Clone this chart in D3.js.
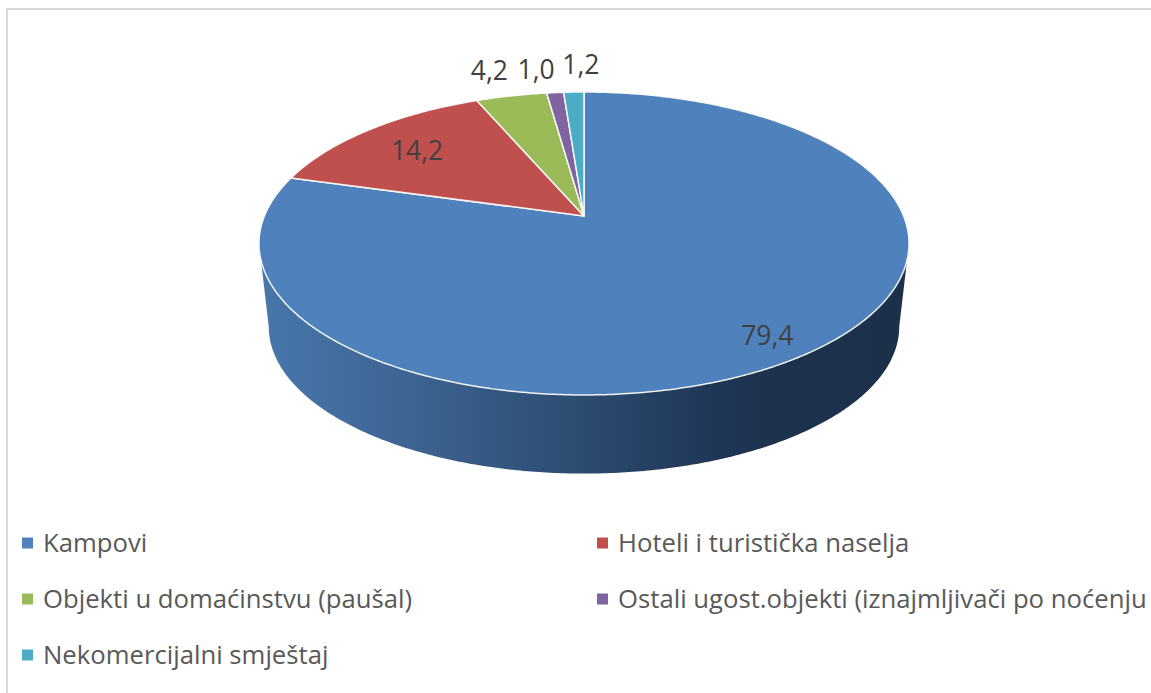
<!DOCTYPE html>
<html>
<head>
<meta charset="utf-8">
<script src="https://cdn.jsdelivr.net/npm/d3@7"></script>
<style>
  html, body { margin: 0; background: #fff; }
  svg { display: block; font-family: 'Open Sans', sans-serif; }
</style>
</head>
<body>
<svg width="1151" height="693"></svg>
<script>
const categories = [
  'Kampovi',
  'Hoteli i turistička naselja',
  'Objekti u domaćinstvu (paušal)',
  'Ostali ugost.objekti (iznajmljivači po noćenju',
  'Nekomercijalni smještaj',
];
const shares = [79.4, 14.2, 4.2, 1.0, 1.2];
const sliceColors = ['#4f81bd', '#c0504d', '#9bbb59', '#8064a2', '#4bacc6'];

const svg = d3.select('svg');
const fmt = (v) => v.toFixed(1).replace('.', ',');
const color = d3.scaleOrdinal(categories, sliceColors);

// tilted disc: the centre sits above the middle of the ellipse, so plain d3.arc won't do
const tilt = 0.1815;
function disc(x0, y0, rx, ry) {
  return (angle, r = 1) => {
    const v = -Math.cos(angle) * r;
    const w = 1 / (1 - tilt * v);
    return [x0 + rx * Math.sin(angle) * r * w, y0 + ry * v * w];
  };
}
const topFace = disc(584, 216, 319.6, 146.5);
const bottomFace = disc(584, 300, 310, 142.1);

const line = d3.line();
const slices = d3.pie().sort(null).value((d) => d)(shares);

function rim(face, from, to) {
  const n = Math.max(2, Math.ceil(Math.abs(to - from) / 0.01));
  return d3.range(n + 1).map((i) => face(from + ((to - from) * i) / n));
}

// chart frame, cropped on the right and at the bottom
svg.append('path')
  .attr('d', 'M7 693V9H1151')
  .attr('fill', 'none')
  .attr('stroke', '#d9d9d9')
  .attr('stroke-width', 2);

// side wall
const grad = svg.append('defs').append('linearGradient')
  .attr('id', 'wall')
  .attr('gradientUnits', 'userSpaceOnUse')
  .attr('x1', 259).attr('x2', 909).attr('y1', 0).attr('y2', 0);
[[0, '#4877ac'], [0.2, '#3f6796'], [0.5, '#2c4b70'], [0.7, '#203657'], [0.78, '#1d324d'], [1, '#1c304a']]
  .forEach(([o, c]) => grad.append('stop').attr('offset', o).attr('stop-color', c));

const wallFrom = Math.acos(-tilt);
const wallTo = 2 * Math.PI - wallFrom;
svg.append('path')
  .attr('d', line([...rim(topFace, wallFrom, wallTo), ...rim(bottomFace, wallTo, wallFrom)]) + 'Z')
  .attr('fill', 'url(#wall)');

// top face
svg.selectAll('path.slice')
  .data(slices)
  .join('path')
  .attr('class', 'slice')
  .attr('d', (d) => line([topFace(0, 0), ...rim(topFace, d.startAngle, d.endAngle)]) + 'Z')
  .attr('fill', (d, i) => color(categories[i]))
  .attr('stroke', '#fff')
  .attr('stroke-opacity', 0.9)
  .attr('stroke-width', 1.5)
  .attr('stroke-linejoin', 'round');

// data labels: two inside the slices, the narrow ones above the rim
const labelRadius = [0.86, 0.76, 1, 1, 1];
const labelNudge = [[-6, 5], [0, 2], [-22, -25], [-19, -23], [7, -27]];
svg.selectAll('text.value')
  .data(slices)
  .join('text')
  .attr('class', 'value')
  .attr('transform', (d, i) => {
    const p = topFace((d.startAngle + d.endAngle) / 2, labelRadius[i]);
    return `translate(${p[0] + labelNudge[i][0]},${p[1] + labelNudge[i][1]})`;
  })
  .attr('text-anchor', 'middle')
  .attr('dy', '0.35em')
  .attr('font-size', 26.5)
  .attr('fill', '#404040')
  .text((d, i) => fmt(shares[i]));

// legend, two columns
const legendX = d3.scalePoint().domain([0, 1]).range([22, 597]);
const legendY = d3.scalePoint().domain([0, 1, 2]).range([543, 655]);
const legend = svg.selectAll('g.legend')
  .data(categories)
  .join('g')
  .attr('class', 'legend')
  .attr('transform', (d, i) => `translate(${legendX(i % 2)},${legendY(Math.floor(i / 2))})`);
legend.append('rect')
  .attr('y', -5.5)
  .attr('width', 11)
  .attr('height', 11)
  .attr('fill', (d) => color(d));
legend.append('text')
  .attr('x', 21)
  .attr('dy', '0.35em')
  .attr('font-size', 25.7)
  .attr('fill', '#595959')
  .text((d) => d);
</script>
</body>
</html>
